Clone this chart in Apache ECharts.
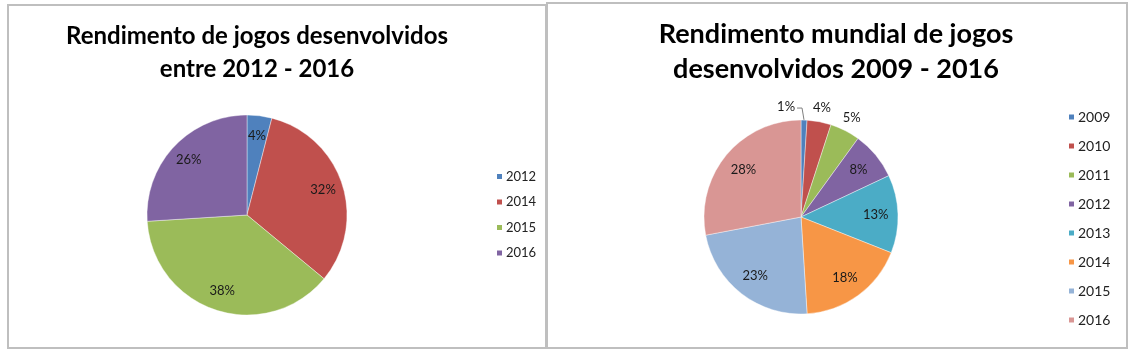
<!DOCTYPE html>
<html>
<head>
<meta charset="utf-8">
<script src="https://cdn.jsdelivr.net/npm/echarts@6/dist/echarts.min.js"></script>
<style>
  html, body { margin: 0; padding: 0; background: #fff; }
  #chart { width: 1132px; height: 353px; }
</style>
</head>
<body>
<div id="chart"></div>
<script>
// grafico 1: 2012 - 2016
var anos1 = ['2012', '2014', '2015', '2016'];
var valores1 = [4, 32, 38, 26];
var cores1 = ['#4F81BD', '#C0504D', '#9BBB59', '#8064A2'];

// grafico 2: mundial 2009 - 2016
var anos2 = ['2009', '2010', '2011', '2012', '2013', '2014', '2015', '2016'];
var valores2 = [1, 4, 5, 8, 13, 18, 23, 28];
var cores2 = ['#4F81BD', '#C0504D', '#9BBB59', '#8064A2', '#4BACC6', '#F79646', '#95B3D7', '#D99694'];

var FONTE = 'Lato, "Open Sans", sans-serif';

// ponto no angulo medio da fatia, a uma fracao f do raio
function pontoMedio(cx, cy, r, valores, i, f) {
  var total = valores.reduce(function (a, b) { return a + b; }, 0);
  var antes = 0;
  for (var j = 0; j < i; j++) antes += valores[j];
  var ang = (antes + valores[i] / 2) / total * 2 * Math.PI; // a partir do topo, sentido horario
  return [cx + r * f * Math.sin(ang), cy - r * f * Math.cos(ang)];
}

// rotulos perto da borda como no Excel; fatias pequenas ficam fora
function layoutRotulos(cx, cy, r, valores, fDentro, fFora) {
  return function (p) {
    var i = p.dataIndex;
    if (valores[i] <= 1) {
      var e = pontoMedio(cx, cy, r, valores, i, 1);
      return {
        x: e[0] - 9, y: e[1] - 13, align: 'right', verticalAlign: 'middle',
        labelLinePoints: [[e[0], e[1]], [e[0] - 2, e[1] - 12], [e[0] - 7, e[1] - 12]]
      };
    }
    var q = pontoMedio(cx, cy, r, valores, i, valores[i] < 6 ? fFora : fDentro);
    return { x: q[0], y: q[1], align: 'center', verticalAlign: 'middle' };
  };
}

function pie(nomes, valores, cores, center, radius, fDentro, fFora) {
  return {
    type: 'pie',
    center: center,
    radius: radius,
    startAngle: 90,
    clockwise: true,
    animation: false,
    label: { show: true, position: 'inside', formatter: '{c}%', color: '#1a1a1a', fontSize: 13, fontFamily: FONTE },
    labelLine: { show: false },
    labelLayout: layoutRotulos(center[0], center[1], radius, valores, fDentro, fFora),
    itemStyle: { borderColor: '#fff', borderWidth: 0.4 },
    emphasis: { disabled: true },
    data: nomes.map(function (n, i) {
      var d = { name: n, value: valores[i], itemStyle: { color: cores[i] } };
      if (valores[i] <= 1) {
        d.label = { position: 'outside' };
        d.labelLine = { show: true, lineStyle: { color: '#7f7f7f', width: 1 } };
      }
      return d;
    })
  };
}

function legendaDados(nomes, cores) {
  return nomes.map(function (n, i) { return { name: n, itemStyle: { color: cores[i] } }; });
}

var chart = echarts.init(document.getElementById('chart'), null, { renderer: 'canvas' });
chart.setOption({
  backgroundColor: '#fff',
  graphic: [
    { type: 'rect', shape: { x: 8, y: 5, width: 538, height: 343 }, style: { fill: 'none', stroke: '#BFBFBF', lineWidth: 2 } },
    { type: 'rect', shape: { x: 547, y: 3, width: 580, height: 345 }, style: { fill: 'none', stroke: '#BFBFBF', lineWidth: 2 } }
  ],
  title: [
    { text: 'Rendimento de jogos desenvolvidos\nentre 2012 - 2016', left: 252, top: 15, textAlign: 'center',
      textStyle: { fontFamily: FONTE, fontWeight: 'bold', fontSize: 24, lineHeight: 33, color: '#000' } },
    { text: 'Rendimento mundial de jogos\ndesenvolvidos 2009 - 2016', left: 831, top: 12, textAlign: 'center',
      textStyle: { fontFamily: FONTE, fontWeight: 'bold', fontSize: 27, lineHeight: 35, color: '#000' } }
  ],
  legend: [
    { data: legendaDados(anos1, cores1), orient: 'vertical', left: 490, top: 165, itemWidth: 7, itemHeight: 7, itemGap: 12.5, icon: 'rect',
      selectedMode: false, textStyle: { fontFamily: FONTE, fontSize: 13, color: '#222', padding: [0, 0, 0, -2] } },
    { data: legendaDados(anos2, cores2), orient: 'vertical', left: 1062, top: 105, itemWidth: 7, itemHeight: 7, itemGap: 15, icon: 'rect',
      selectedMode: false, textStyle: { fontFamily: FONTE, fontSize: 14, color: '#222', padding: [0, 0, 0, -2] } }
  ],
  series: [
    pie(anos1, valores1, cores1, [247, 215], 100, 0.8, 0.8),
    pie(anos2, valores2, cores2, [801, 217], 97, 0.77, 1.15)
  ]
});
</script>
</body>
</html>
